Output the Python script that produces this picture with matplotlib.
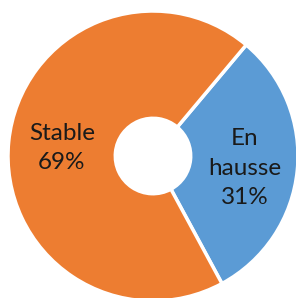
import matplotlib
matplotlib.use("Agg")
import matplotlib.pyplot as plt

categories = ["En\nhausse", "Stable"]
values = [31, 69]
colors = ["#5B9BD5", "#ED7D31"]

fig = plt.figure(figsize=(2.96, 2.98), dpi=100)
ax = fig.add_axes([0, 0, 1, 1])
wedges, _ = ax.pie(values, colors=colors, startangle=50, counterclock=False,
                   radius=1.0, wedgeprops=dict(width=0.74, edgecolor="white", linewidth=2.5),
                   center=(0, 0))
label_pos = [(0.634, -0.083), (-0.628, 0.055)]
for cat, v, (x, y) in zip(categories, values, label_pos):
    ax.text(x, y, f"{cat}\n{v}%", ha="center", va="center", fontsize=17.5,
            family=["Lato", "DejaVu Sans"], color="#1a1a1a", linespacing=1.5)
ax.set_xlim(-153/145, 143/145)
ax.set_ylim(-142/145, 156/145)
ax.set_aspect("auto")
ax.axis("off")
fig.savefig("out.png", dpi=100)
